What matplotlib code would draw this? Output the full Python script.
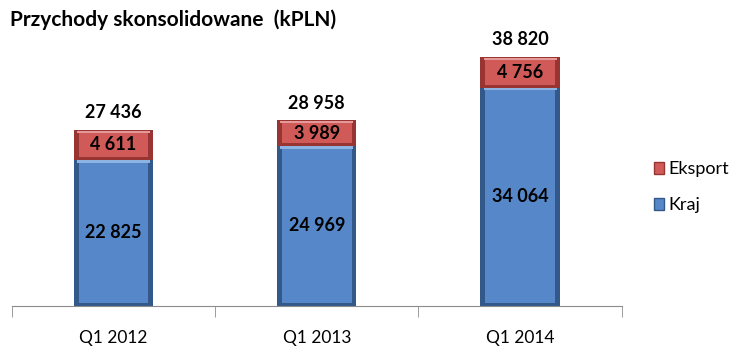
import matplotlib.pyplot as plt
from matplotlib.patches import Patch
import numpy as np

# data
quarters = ["Q1 2012", "Q1 2013", "Q1 2014"]
kraj = [22825, 24969, 34064]
eksport = [4611, 3989, 4756]
totals = [27436, 28958, 38820]

plt.rcParams['font.family'] = ['Lato', 'DejaVu Sans']

blue, blue_dark = "#5687C8", "#33598A"
red, red_dark = "#CF5A57", "#983532"

def fmt(v):
    return f"{v:,}".replace(",", " ")

fig = plt.figure(figsize=(7.41, 3.57), dpi=100)
ax = fig.add_axes([0.016, 0.143, 0.823, 0.808])

x = np.arange(len(quarters))
w = 0.39
bev = 450  # bevel thickness in data units

# outer (dark) bars then inner lighter faces for a bevel look
ax.bar(x, kraj, w, color=blue_dark, zorder=2)
ax.bar(x, np.array(kraj) - 2 * bev, w * 0.88, bottom=bev, color=blue, zorder=3)
ax.bar(x, eksport, w, bottom=kraj, color=red_dark, zorder=2)
ax.bar(x, np.array(eksport) - 2 * bev, w * 0.88, bottom=np.array(kraj) + bev,
       color=red, zorder=3)
# light top edges
ax.bar(x, bev * 0.8, w * 0.92, bottom=np.array(kraj) - bev, color="#8DB3E2", zorder=3)
ax.bar(x, bev * 0.8, w * 0.92, bottom=np.array(totals) - bev, color="#E39A98", zorder=3)

for i in range(len(quarters)):
    ax.text(x[i], kraj[i] / 2, fmt(kraj[i]), ha='center', va='center',
            fontsize=13, fontweight='bold', zorder=5)
    ax.text(x[i], kraj[i] + eksport[i] / 2, fmt(eksport[i]), ha='center', va='center',
            fontsize=13, fontweight='bold', zorder=5)
    ax.text(x[i], totals[i] + 2700, fmt(totals[i]), ha='center', va='center',
            fontsize=13, fontweight='bold', zorder=5)

ax.set_xlim(-0.5, 2.5)
ax.set_ylim(0, 45000)
ax.set_yticks([])
ax.set_xticks(x)
ax.set_xticklabels(quarters, fontsize=12.5)
ax.tick_params(axis='x', length=0, pad=17)
ax.set_xticks([-0.5, 0.5, 1.5, 2.5], minor=True)
ax.tick_params(axis='x', which='minor', length=8, color="#8C8C8C")
for s in ['top', 'right', 'left']:
    ax.spines[s].set_visible(False)
ax.spines['bottom'].set_color("#8C8C8C")

fig.text(0.014, 0.944, "Przychody skonsolidowane  (kPLN)", fontsize=15,
         fontweight='bold', va='center', ha='left')

handles = [Patch(facecolor=red, edgecolor=red_dark, label="Eksport"),
           Patch(facecolor=blue, edgecolor=blue_dark, label="Kraj")]
fig.legend(handles=handles, loc='center left', bbox_to_anchor=(0.86, 0.475),
           frameon=False, fontsize=13, handlelength=0.6, handleheight=0.6,
           handletextpad=0.25, labelspacing=1.1)

fig.savefig("out.png", dpi=100)
